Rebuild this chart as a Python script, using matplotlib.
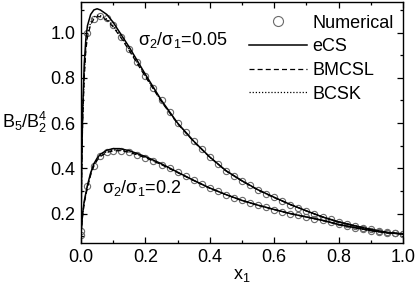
import matplotlib
matplotlib.use("Agg")
import matplotlib.pyplot as plt
from matplotlib.ticker import MultipleLocator, FormatStrFormatter

plt.rcParams['font.family'] = ['Liberation Sans', 'DejaVu Sans']
plt.rcParams['mathtext.fontset'] = 'custom'
plt.rcParams['mathtext.rm'] = 'Liberation Sans'
plt.rcParams['mathtext.it'] = 'Liberation Sans'
plt.rcParams['mathtext.sf'] = 'Liberation Sans'

# ---- data ----
x_ecs_a = [0.0, 0.002, 0.005, 0.01, 0.015, 0.02, 0.03, 0.04, 0.05, 0.06, 0.08, 0.10, 0.125, 0.15,
           0.175, 0.2, 0.25, 0.3, 0.35, 0.4, 0.45, 0.5, 0.55, 0.6, 0.65, 0.7, 0.75, 0.8, 0.85,
           0.9, 0.95, 1.0]
y_ecs_a = [0.11, 0.40, 0.65, 0.86, 0.97, 1.03, 1.08, 1.10, 1.105, 1.10, 1.08, 1.045, 0.99, 0.935,
           0.875, 0.815, 0.70, 0.60, 0.52, 0.45, 0.39, 0.345, 0.305, 0.272, 0.24, 0.212, 0.185,
           0.163, 0.146, 0.13, 0.117, 0.11]

x_bm_a = [0.0, 0.002, 0.005, 0.01, 0.015, 0.02, 0.03, 0.04, 0.05, 0.06, 0.08, 0.10, 0.125, 0.15,
          0.175, 0.2, 0.25, 0.3, 0.35, 0.4, 0.45, 0.5, 0.55, 0.6, 0.65, 0.7, 0.75, 0.8, 0.85,
          0.9, 0.95, 1.0]
y_bm_a = [0.11, 0.36, 0.60, 0.80, 0.92, 0.98, 1.035, 1.06, 1.07, 1.07, 1.055, 1.025, 0.975, 0.92,
          0.862, 0.805, 0.694, 0.597, 0.518, 0.449, 0.389, 0.344, 0.304, 0.271, 0.24, 0.212,
          0.185, 0.163, 0.146, 0.13, 0.117, 0.11]

x_bc_a = x_bm_a
y_bc_a = [0.11, 0.37, 0.61, 0.81, 0.93, 0.99, 1.045, 1.068, 1.076, 1.075, 1.06, 1.03, 0.98, 0.925,
          0.866, 0.808, 0.696, 0.598, 0.519, 0.449, 0.389, 0.344, 0.304, 0.271, 0.24, 0.212,
          0.185, 0.163, 0.146, 0.13, 0.117, 0.11]

x_ecs_b = [0.0, 0.005, 0.01, 0.02, 0.03, 0.04, 0.05, 0.06, 0.08, 0.10, 0.12, 0.15, 0.2, 0.25, 0.3,
           0.35, 0.4, 0.45, 0.5, 0.55, 0.6, 0.65, 0.7, 0.75, 0.8, 0.85, 0.9, 0.95, 1.0]
y_ecs_b = [0.11, 0.20, 0.255, 0.325, 0.38, 0.42, 0.445, 0.462, 0.48, 0.487, 0.487, 0.478, 0.452,
           0.42, 0.383, 0.347, 0.313, 0.284, 0.258, 0.237, 0.218, 0.20, 0.185, 0.17, 0.152,
           0.138, 0.125, 0.115, 0.11]

x_bm_b = x_ecs_b
y_bm_b = [0.11, 0.19, 0.245, 0.315, 0.37, 0.41, 0.435, 0.452, 0.47, 0.477, 0.478, 0.471, 0.447,
          0.416, 0.381, 0.346, 0.312, 0.284, 0.258, 0.237, 0.218, 0.20, 0.185, 0.17, 0.152,
          0.138, 0.125, 0.115, 0.11]
x_bc_b = x_ecs_b
y_bc_b = [0.11, 0.195, 0.25, 0.32, 0.375, 0.415, 0.44, 0.457, 0.474, 0.481, 0.481, 0.473, 0.449,
          0.417, 0.382, 0.346, 0.312, 0.284, 0.258, 0.237, 0.218, 0.20, 0.185, 0.17, 0.152,
          0.138, 0.125, 0.115, 0.11]

x_num = [0.0, 0.02, 0.04, 0.06, 0.08, 0.1, 0.125, 0.15, 0.175, 0.2, 0.225, 0.25, 0.275, 0.3,
         0.325, 0.35, 0.375, 0.4, 0.425, 0.45, 0.475, 0.5, 0.525, 0.55, 0.575, 0.6, 0.625, 0.65,
         0.675, 0.7, 0.725, 0.75, 0.775, 0.8, 0.825, 0.85, 0.875, 0.9, 0.925, 0.95, 0.975, 1.0]
y_num_a = [0.125, 1.00, 1.06, 1.072, 1.065, 1.035, 0.982, 0.928, 0.868, 0.81, 0.755, 0.70, 0.65,
           0.60, 0.56, 0.52, 0.485, 0.45, 0.42, 0.39, 0.367, 0.345, 0.325, 0.305, 0.288, 0.272,
           0.256, 0.24, 0.226, 0.212, 0.198, 0.185, 0.174, 0.163, 0.154, 0.146, 0.138, 0.13,
           0.123, 0.117, 0.113, 0.11]
y_num_b = [0.105, 0.32, 0.41, 0.455, 0.472, 0.478, 0.478, 0.47, 0.46, 0.447, 0.432, 0.416, 0.40,
           0.382, 0.364, 0.347, 0.33, 0.313, 0.298, 0.284, 0.271, 0.258, 0.247, 0.237, 0.227,
           0.218, 0.209, 0.20, 0.192, 0.185, 0.177, 0.17, 0.161, 0.152, 0.145, 0.138, 0.131,
           0.125, 0.12, 0.115, 0.112, 0.11]

labels = ['Numerical', 'eCS', 'BMCSL', 'BCSK']
curve_labels = [r'$\mathrm{\sigma_2/\sigma_1}$=0.05', r'$\mathrm{\sigma_2/\sigma_1}$=0.2']

# ---- figure ----
fig = plt.figure(figsize=(4.15, 2.90), dpi=100)
ax = fig.add_axes([81/415, 47/290, 322/415, 241/290])

mk = dict(ls='none', marker='o', mfc='none', mec='#6a6a6a', mew=0.8, ms=4.5)
hn, = ax.plot(x_num, y_num_a, **mk)
ax.plot(x_num, y_num_b, **mk)

he, = ax.plot(x_ecs_a, y_ecs_a, color='black', lw=1.1, ls='-')
ax.plot(x_ecs_b, y_ecs_b, color='black', lw=1.1, ls='-')
hb, = ax.plot(x_bm_a, y_bm_a, color='black', lw=0.9, ls=(0, (4, 2.5)))
ax.plot(x_bm_b, y_bm_b, color='black', lw=0.9, ls=(0, (4, 2.5)))
hc, = ax.plot(x_bc_a, y_bc_a, color='black', lw=0.9, ls=(0, (1, 1.5)))
ax.plot(x_bc_b, y_bc_b, color='black', lw=0.9, ls=(0, (1, 1.5)))

ax.set_xlim(0.0, 1.0)
ax.set_ylim(0.07, 1.135)
ax.xaxis.set_major_locator(MultipleLocator(0.2))
ax.xaxis.set_minor_locator(MultipleLocator(0.1))
ax.yaxis.set_major_locator(MultipleLocator(0.2))
ax.yaxis.set_minor_locator(MultipleLocator(0.1))
ax.xaxis.set_major_formatter(FormatStrFormatter('%.1f'))
ax.yaxis.set_major_formatter(FormatStrFormatter('%.1f'))
ax.tick_params(which='both', direction='in', top=True, right=True, labelsize=13, width=0.9)
ax.tick_params(which='major', length=4.5, pad=4)
ax.tick_params(which='minor', length=2.5)
for s in ax.spines.values():
    s.set_linewidth(1.0)

ax.text(0.176, 0.945, curve_labels[0], fontsize=13, ha='left', va='baseline')
ax.text(0.065, 0.292, curve_labels[1], fontsize=13, ha='left', va='baseline')

ax.set_xlabel(r'x$_\mathrm{1}$', fontsize=13, labelpad=1)
fig.text(2/415, (290-128)/290, r'B$_\mathrm{5}$/B$_\mathrm{2}^\mathrm{4}$', fontsize=13,
         ha='left', va='baseline')

ax.legend([hn, he, hb, hc], labels, loc='upper right', frameon=False, fontsize=13,
          handlelength=3.2, handletextpad=0.3, labelspacing=0.37, borderaxespad=0.1,
          markerscale=1.6, bbox_to_anchor=(1.0, 0.985))

fig.savefig('out.png', dpi=100)
